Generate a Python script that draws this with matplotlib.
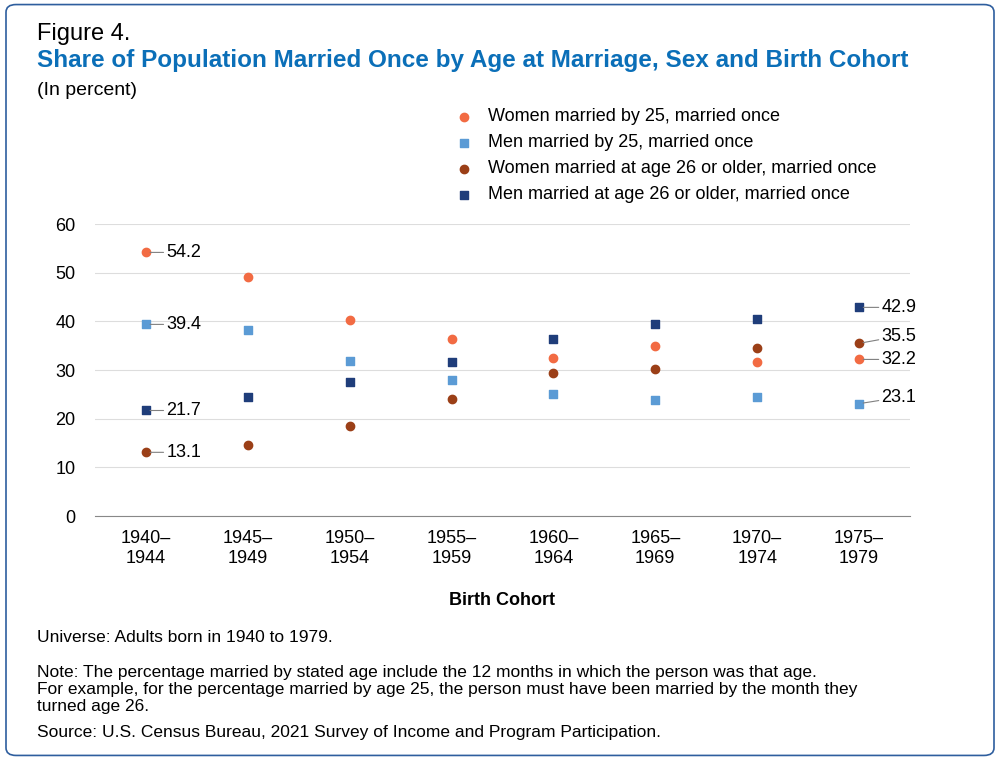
import matplotlib.pyplot as plt
from matplotlib.patches import FancyBboxPatch

cohorts = ['1940–\n1944', '1945–\n1949', '1950–\n1954', '1955–\n1959',
           '1960–\n1964', '1965–\n1969', '1970–\n1974', '1975–\n1979']
women_25 = [54.2, 49.1, 40.3, 36.4, 32.5, 35.0, 31.6, 32.2]
men_25 = [39.4, 38.2, 31.8, 27.9, 25.1, 23.9, 24.5, 23.1]
women_26 = [13.1, 14.6, 18.5, 24.0, 29.4, 30.2, 34.5, 35.5]
men_26 = [21.7, 24.5, 27.5, 31.6, 36.4, 39.4, 40.5, 42.9]

series = [
    ('Women married by 25, married once', women_25, '#F26B43', 'o'),
    ('Men married by 25, married once', men_25, '#5B9BD5', 's'),
    ('Women married at age 26 or older, married once', women_26, '#9B3F17', 'o'),
    ('Men married at age 26 or older, married once', men_26, '#1F3D7A', 's'),
]

plt.rcParams['font.family'] = ['Liberation Sans', 'DejaVu Sans']
fig = plt.figure(figsize=(10, 7.6), dpi=100)
fig.patches.append(FancyBboxPatch((0.006, 0.006), 0.988, 0.988, boxstyle='round,pad=0,rounding_size=0.01',
                                  transform=fig.transFigure, fill=False, edgecolor='#2E5E9E', linewidth=1.2))

ax = fig.add_axes([0.095, 0.321, 0.815, 0.384])
x = list(range(len(cohorts)))
for label, vals, color, marker in series:
    ax.scatter(x, vals, color=color, marker=marker, s=36, label=label, zorder=3)

# end labels with leader lines
for vals in [women_25, men_25, women_26, men_26]:
    ax.annotate(f'{vals[0]}', xy=(0, vals[0]), xytext=(0.2, vals[0]), fontsize=13, va='center',
                arrowprops=dict(arrowstyle='-', color='gray', lw=0.8, shrinkA=0, shrinkB=3))
offsets = {women_25[-1]: 32.2, men_25[-1]: 24.4, women_26[-1]: 37.0, men_26[-1]: 42.9}
for vals in [women_25, men_25, women_26, men_26]:
    ax.annotate(f'{vals[-1]}', xy=(7, vals[-1]), xytext=(7.22, offsets[vals[-1]]), fontsize=13, va='center',
                arrowprops=dict(arrowstyle='-', color='gray', lw=0.8, shrinkA=0, shrinkB=3))

ax.set_xlim(-0.5, 7.5)
ax.set_ylim(0, 60)
ax.set_yticks(range(0, 61, 10))
ax.set_xticks(x)
ax.set_xticklabels(cohorts, fontsize=13)
ax.tick_params(axis='y', labelsize=13, length=0, pad=14)
ax.tick_params(axis='x', length=0, pad=10)
ax.grid(axis='y', color='#DDDDDD', lw=0.8)
ax.set_axisbelow(True)
for s in ['top', 'right', 'left']:
    ax.spines[s].set_visible(False)
ax.spines['bottom'].set_color('#888888')
ax.set_xlabel('Birth Cohort', fontsize=13, fontweight='bold', labelpad=18)

ax.legend(loc='lower left', bbox_to_anchor=(0.42, 1.04), frameon=False, fontsize=13,
          handletextpad=0.3, labelspacing=0.5, borderpad=0)

fig.text(0.037, 0.948, 'Figure 4.', fontsize=17)
fig.text(0.037, 0.912, 'Share of Population Married Once by Age at Marriage, Sex and Birth Cohort',
         fontsize=17.5, fontweight='bold', color='#0B6FB8')
fig.text(0.037, 0.875, '(In percent)', fontsize=14)
fig.text(0.037, 0.155, 'Universe: Adults born in 1940 to 1979.', fontsize=12.5)
fig.text(0.037, 0.065,
         'Note: The percentage married by stated age include the 12 months in which the person was that age.\n'
         'For example, for the percentage married by age 25, the person must have been married by the month they\n'
         'turned age 26.', fontsize=12.5, linespacing=1.15)
fig.text(0.037, 0.03, 'Source: U.S. Census Bureau, 2021 Survey of Income and Program Participation.', fontsize=12.5)

fig.savefig('out.png', dpi=100)
